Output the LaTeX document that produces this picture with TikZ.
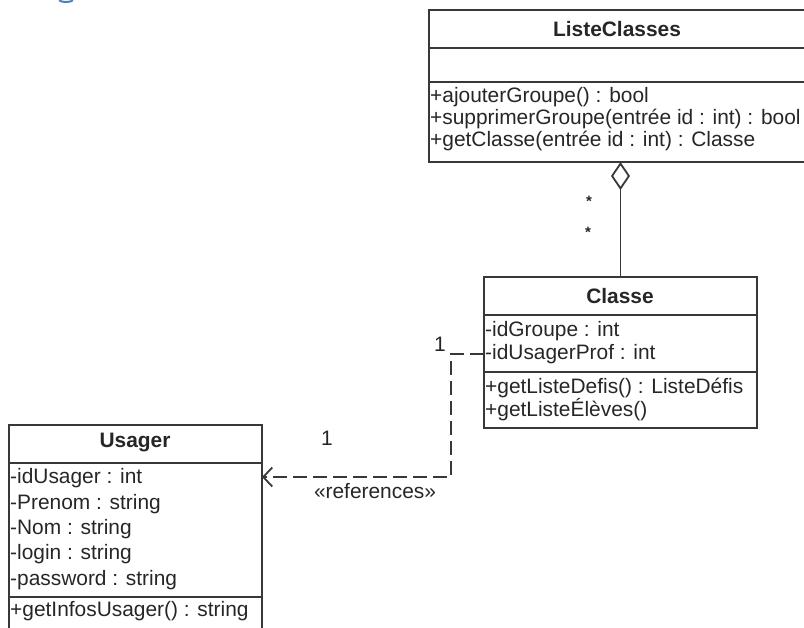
\documentclass[tikz,border=0pt]{standalone}
\usepackage{fontspec}
\setmainfont{Liberation Sans}
\usetikzlibrary{arrows.meta}
\definecolor{ink}{HTML}{262626}
\definecolor{edge}{HTML}{383838}
\definecolor{headblue}{RGB}{79,129,189}
\begin{document}
\begin{tikzpicture}[x=1pt,y=1pt,
  umlbox/.style={draw=edge, line width=2pt, rectangle, inner sep=0pt, outer sep=0pt, anchor=north west},
  sepline/.style={draw=edge, line width=2pt},
  txt/.style={anchor=west, inner sep=0pt, font=\fontsize{20.9}{23}\selectfont, text=ink},
  ttl/.style={inner sep=0pt, font=\fontsize{20.9}{23}\selectfont\bfseries, text=ink},
  lbl/.style={inner sep=0pt, font=\fontsize{20.9}{23}\selectfont, text=ink},
  aggr/.style={draw=edge, line width=1.8pt, {Diamond[open,length=28pt,width=19pt]}-},
  depend/.style={draw=edge, line width=1.8pt, dash pattern=on 14pt off 6pt, -{Straight Barb[length=9pt,width=19pt]}},
]
\useasboundingbox (0,0) rectangle (804,-628);
% fragment of heading above the picture
\draw[headblue, line width=2pt] (59,-0.3) .. controls (62,-2.6) and (70,-2.6) .. (73,-0.3);

% ListeClasses
\node[umlbox, minimum width=377pt, minimum height=152pt] (lc) at (429,-10) {};
\draw[sepline] (429,-48) -- (806,-48);
\draw[sepline] (429,-82) -- (806,-82);
\node[ttl] (lct) at (617,-29) {ListeClasses};
\node[txt] (lcm1) at (430,-97) {+ajouterGroupe() : bool};
\node[txt] (lcm2) at (430,-119) {+supprimerGroupe(entrée id : int) : bool};
\node[txt] (lcm3) at (430,-141) {+getClasse(entrée id : int) : Classe};

% Classe
\node[umlbox, minimum width=273pt, minimum height=151pt] (cl) at (484,-277) {};
\draw[sepline] (484,-315) -- (757,-315);
\draw[sepline] (484,-372) -- (757,-372);
\node[ttl] (clt) at (620,-296) {Classe};
\node[txt] (cla1) at (485,-331) {-idGroupe : int};
\node[txt] (cla2) at (485,-354) {-idUsagerProf : int};
\node[txt] (clm1) at (485,-388) {+getListeDefis() : ListeDéfis};
\node[txt] (clm2) at (485,-410) {+getListeÉlèves()};

% Usager
\node[umlbox, minimum width=253pt, minimum height=220pt] (us) at (9,-425) {};
\draw[sepline] (9,-463) -- (262,-463);
\draw[sepline] (9,-597) -- (262,-597);
\node[ttl] (ust) at (135,-443) {Usager};
\node[txt] (usa1) at (10,-478) {-idUsager : int};
\node[txt] (usa2) at (10,-504) {-Prenom : string};
\node[txt] (usa3) at (10,-529) {-Nom : string};
\node[txt] (usa4) at (10,-554) {-login : string};
\node[txt] (usa5) at (10,-580) {-password : string};
\node[txt] (usm1) at (10,-611) {+getInfosUsager() : string};

% aggregation ListeClasses <>-- Classe
\draw[aggr] (lc.south -| cl.north) -- (cl.north);
\node[lbl, font=\fontsize{15}{15}\selectfont\bfseries] (m1) at (589,-201) {*};
\node[lbl, font=\fontsize{15}{15}\selectfont\bfseries] (m2) at (588,-232) {*};

% dependency Classe ..> Usager
\coordinate (dstart) at (484,-354);
\coordinate (dend) at (262,-477);
\draw[depend] (dstart) -- (451,-354) -- (451,-477) -- (dend);
\node[lbl] (n1) at (440,-344) {1};
\node[lbl] (n2) at (327,-438) {1};
\node[lbl] (ref) at (375,-491) {«references»};
\end{tikzpicture}
\end{document}
